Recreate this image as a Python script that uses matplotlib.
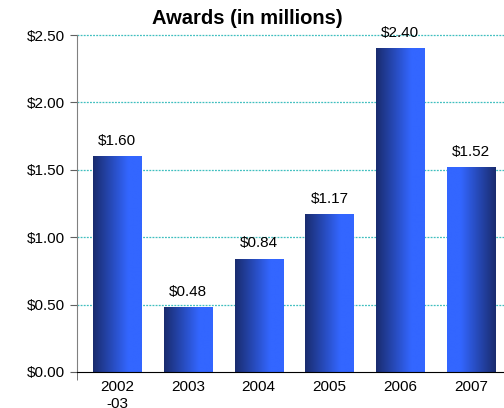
import numpy as np
import matplotlib
matplotlib.use("Agg")
import matplotlib.pyplot as plt
from matplotlib.colors import LinearSegmentedColormap

categories = ["2002\n-03", "2003", "2004", "2005", "2006", "2007"]
values = [1.60, 0.48, 0.84, 1.17, 2.40, 1.52]
labels = ["$1.60", "$0.48", "$0.84", "$1.17", "$2.40", "$1.52"]
yticks = [0.0, 0.5, 1.0, 1.5, 2.0, 2.5]
yticklabels = ["$0.00", "$0.50", "$1.00", "$1.50", "$2.00", "$2.50"]
title = "Awards (in millions)"

plt.rcParams['font.family'] = ['Liberation Sans', 'DejaVu Sans']

fig = plt.figure(figsize=(5.04, 4.08), dpi=100)
ax = fig.add_axes([77/504, 36/408, 427/504, 337/408])

dark = (0.10, 0.17, 0.43)
bright = (0.20, 0.40, 1.0)
cmap = LinearSegmentedColormap.from_list("g", [(0, dark), (0.72, bright), (1.0, bright)])

x = np.arange(len(categories))
width = 0.68
bars = ax.bar(x, values, width=width, color='none', edgecolor='none', zorder=3)
grad = np.linspace(0, 1, 256).reshape(1, -1)
for i, b in enumerate(bars):
    g = grad if i < len(bars) - 1 else grad[:, ::-1]
    x0 = b.get_x()
    im = ax.imshow(g, cmap=cmap, aspect='auto', extent=[x0, x0 + width, 0, values[i]],
                   zorder=3, interpolation='bilinear')
    im.set_clip_path(b)
    ax.annotate(labels[i], (x[i], values[i]), xytext=(0, 6), textcoords='offset points',
                ha='center', va='bottom', fontsize=11, zorder=4)

ax.set_xlim(-0.565, 5.465)
ax.set_ylim(0, 2.5)
ax.set_yticks(yticks)
ax.set_yticklabels(yticklabels, fontsize=11)
ax.set_xticks(x)
ax.set_xticklabels(categories, fontsize=11, va='top', linespacing=1.25)
ax.tick_params(axis='x', length=0, pad=6)
ax.set_xticks([-0.565], minor=True)
ax.tick_params(axis='x', which='minor', length=6, color='#606060')
ax.tick_params(axis='y', length=5, color='#606060', pad=4)

for yv in yticks[1:]:
    ax.axhline(yv, color='#3fbfbf', linestyle=(0, (1.5, 1)), linewidth=0.9, zorder=1, clip_on=False)

ax.spines['top'].set_visible(False)
ax.spines['right'].set_visible(False)
ax.spines['left'].set_color('#808080')
ax.spines['bottom'].set_color('black')
ax.spines['bottom'].set_zorder(5)

fig.text(247/504, 1 - 18/408, title, ha='center', va='center', fontsize=14.5, fontweight='bold')

fig.savefig("out.png", dpi=100)
